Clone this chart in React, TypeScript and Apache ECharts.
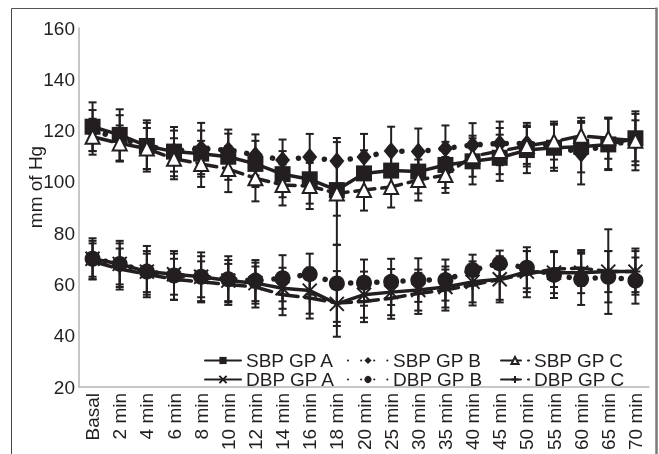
import React, { useEffect, useRef } from "react";
import * as echarts from "echarts";

const categories = ["Basal", "2 min", "4 min", "6 min", "8 min", "10 min", "12 min", "14 min", "16 min", "18 min", "20 min", "25 min", "30 min", "35 min", "40 min", "45 min", "50 min", "55 min", "60 min", "65 min", "70 min"];

const sbpA = [121.5, 118.3, 114, 111.8, 111, 109.8, 107, 103, 101, 96.8, 103.3, 104.4, 104, 106.6, 108, 109.4, 112.4, 113.3, 113.7, 114.6, 117];
const sbpB = [120, 117, 114, 112, 113, 112.4, 110.5, 108.5, 109.7, 108.1, 109.7, 112, 111.8, 113, 114.4, 115, 115, 114.5, 111, 115, 115.5];
const sbpC = [117.6, 115, 113, 109, 107, 105, 101.4, 98.8, 98.4, 95.5, 96.8, 98, 100.7, 102.7, 110, 112, 114, 115.7, 118, 117, 116];
const dbpA = [70, 68, 65, 64, 63, 61.5, 60.5, 58.5, 57.6, 52.4, 56, 57, 57.8, 59, 61, 62, 65, 64.6, 64.6, 65, 65];
const dbpB = [70, 68, 65, 63.5, 63, 62, 61.5, 62.4, 64, 60.4, 60.7, 61, 61.7, 61.7, 65.6, 68.2, 66.5, 63.7, 62, 63, 61.5];
const dbpC = [69, 66, 64, 62, 61, 60, 59, 56, 54.7, 52.8, 53.3, 54.6, 56.5, 57.8, 59.8, 62, 64, 66, 66.4, 65, 65];

const sdSbpA = [9.5, 10, 10, 9.6, 9, 9, 9, 9, 9.5, 10, 9, 9, 8.5, 9, 9, 9, 9, 9, 10, 10, 10.5];
const sdSbpB = [8, 9, 9, 8, 10, 8, 8, 8, 9, 9, 9, 9.5, 9, 9, 8.5, 8.5, 8, 9, 12, 10, 11];
const sdSbpC = [7, 7, 8, 8, 9, 9, 9, 8, 9, 20, 8, 8, 8, 7, 8, 9, 8, 7, 7, 8, 8];
const sdDbpA = [7, 8, 8, 8, 8, 8, 8, 8, 9, 12.8, 9, 9, 8, 8, 8, 8, 8, 8, 8, 8, 8];
const sdDbpB = [8, 9, 10, 9.5, 9.5, 9, 8, 9, 8, 15, 9, 9, 8.5, 8, 6, 5, 8, 9, 10, 10, 9];
const sdDbpC = [7, 8, 8, 8, 8, 8, 8, 8, 8, 9, 8, 8, 8, 8, 8, 9, 9, 7, 7, 16.5, 9];

const yTicks = { min: 20, max: 160, interval: 20 };

const INK = "#231f20";
const FONT = "Liberation Sans, Arial, sans-serif";

function errData(mean: number[], sd: number[]) {
  return mean.map((m, i) => [i, m - sd[i], m + sd[i]]);
}

export default function App() {
  const ref = useRef<HTMLDivElement>(null);
  useEffect(() => {
    if (!ref.current) return;
    const chart = echarts.init(ref.current, undefined, { renderer: "svg" });
    const renderErr = (params: any, api: any) => {
      const x = api.value(0);
      const lo = api.coord([x, api.value(1)]);
      const hi = api.coord([x, api.value(2)]);
      const w = 4;
      const st = { stroke: INK, lineWidth: 2 };
      return {
        type: "group",
        children: [
          { type: "line", shape: { x1: lo[0], y1: lo[1], x2: hi[0], y2: hi[1] }, style: st },
          { type: "line", shape: { x1: lo[0] - w, y1: lo[1], x2: lo[0] + w, y2: lo[1] }, style: st },
          { type: "line", shape: { x1: hi[0] - w, y1: hi[1], x2: hi[0] + w, y2: hi[1] }, style: st },
        ],
      };
    };
    const errSeries = (name: string, mean: number[], sd: number[]) => ({
      type: "custom",
      name: name + " err",
      renderItem: renderErr,
      data: errData(mean, sd),
      encode: { x: 0, y: [1, 2] },
      z: 1,
      silent: true,
    });
    const lineSeries = (name: string, data: number[], symbol: string, size: any, lineType: any, lw: number, itemStyle: any) => ({
      type: "line",
      name,
      data,
      symbol,
      symbolSize: size,
      z: 3,
      lineStyle: { color: INK, width: lw, type: lineType, cap: "round" },
      itemStyle,
    });
    const filled = { color: INK };
    const legendText = { fontSize: 19, color: INK, fontFamily: FONT, lineHeight: 19 };
    const option: any = {
      animation: false,
      textStyle: { fontFamily: FONT },
      grid: { left: 79, top: 28, right: 10, bottom: 67 },
      xAxis: {
        type: "category",
        data: categories,
        boundaryGap: true,
        axisLine: { lineStyle: { color: "#b5b5b5", width: 1.5 } },
        axisTick: { show: false },
        axisLabel: { rotate: 90, margin: 6, fontSize: 19, color: INK, fontFamily: FONT, interval: 0 },
      },
      yAxis: {
        type: "value",
        min: yTicks.min,
        max: yTicks.max,
        interval: yTicks.interval,
        axisLine: { show: true, lineStyle: { color: "#b5b5b5", width: 1.5 } },
        axisTick: { show: false },
        splitLine: { show: false },
        axisLabel: { margin: 4, fontSize: 19, color: INK, fontFamily: FONT },
      },
      legend: [
        {
          orient: "vertical", left: 199, top: 346, itemWidth: 36, itemHeight: 9, itemGap: 0,
          data: ["SBP GP A", "DBP GP A"], textStyle: legendText,
        },
        {
          orient: "vertical", left: 342, top: 346, itemWidth: 40, itemHeight: 9, itemGap: 0,
          data: ["SBP GP B", "DBP GP B"], textStyle: legendText,
        },
        {
          orient: "vertical", left: 495, top: 346, itemWidth: 28, itemHeight: 9, itemGap: 0,
          data: ["SBP GP C", "DBP GP C"], textStyle: legendText,
        },
      ],
      graphic: [
        { type: "line", shape: { x1: 11.5, y1: 8.5, x2: 656, y2: 8.5 }, style: { stroke: "#555", lineWidth: 1 } },
        { type: "line", shape: { x1: 11.5, y1: 8.5, x2: 11.5, y2: 454 }, style: { stroke: "#444", lineWidth: 1 } },
        { type: "line", shape: { x1: 656.5, y1: 7.5, x2: 656.5, y2: 454 }, style: { stroke: "#7a7a7a", lineWidth: 2.5 } },
        {
          type: "text", x: 35, y: 187, rotation: Math.PI / 2,
          style: { text: "mm of Hg", fontSize: 19, fontFamily: FONT, fill: INK, align: "center", verticalAlign: "middle" },
        },
      ],
      series: [
        errSeries("SBP GP A", sbpA, sdSbpA),
        errSeries("SBP GP B", sbpB, sdSbpB),
        errSeries("SBP GP C", sbpC, sdSbpC),
        errSeries("DBP GP A", dbpA, sdDbpA),
        errSeries("DBP GP B", dbpB, sdDbpB),
        errSeries("DBP GP C", dbpC, sdDbpC),
        lineSeries("SBP GP A", sbpA, "rect", 16, "solid", 3.5, filled),
        lineSeries("SBP GP B", sbpB, "diamond", [15, 18], [0.1, 13], 5.5, filled),
        lineSeries("SBP GP C", sbpC, "triangle", 14, [20, 7], 3.5, { color: "#fff", borderColor: INK, borderWidth: 2 }),
        lineSeries("DBP GP A", dbpA, "path://M0,0L10,10M10,0L0,10", 14, "solid", 3.5, { color: INK, borderColor: INK, borderWidth: 2 }),
        lineSeries("DBP GP B", dbpB, "circle", 16, [0.1, 13], 5.5, filled),
        lineSeries("DBP GP C", dbpC, "path://M5,0L5,10M0,5L10,5", 10, [20, 7], 3.5, { color: INK, borderColor: INK, borderWidth: 2 }),
      ],
    };
    chart.setOption(option);
    return () => chart.dispose();
  }, []);
  return <div ref={ref} style={{ position: "fixed", left: 0, top: 0, width: 659, height: 454 }} />;
}
